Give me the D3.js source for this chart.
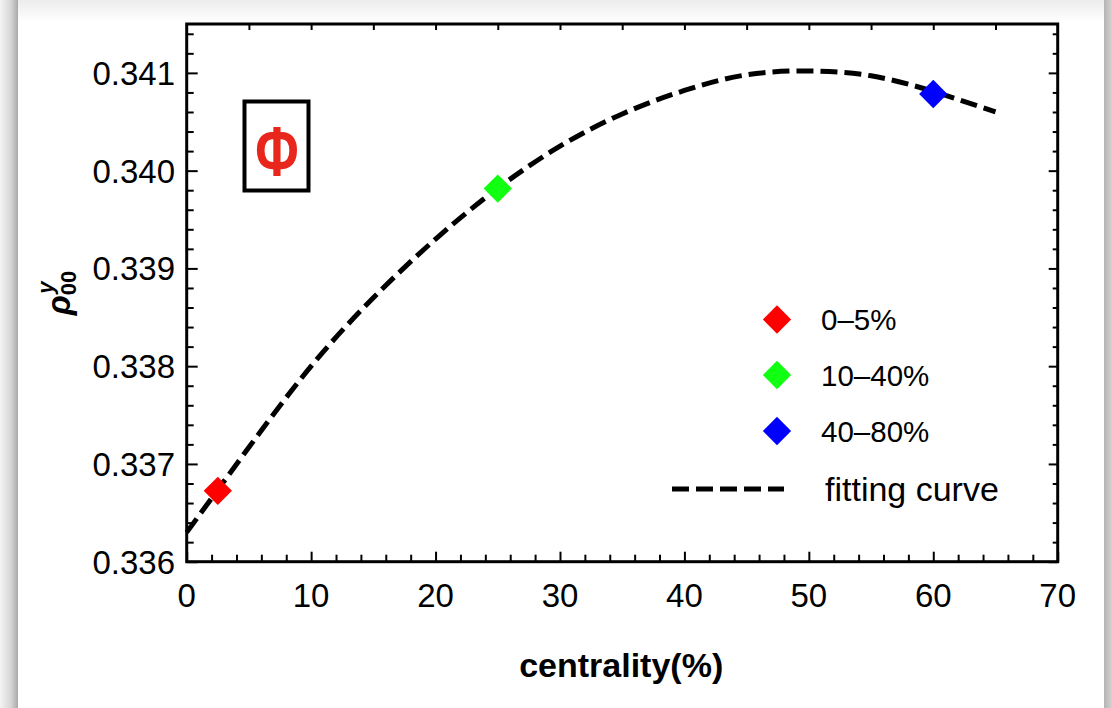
<!DOCTYPE html>
<html><head><meta charset="utf-8">
<script src="https://cdn.jsdelivr.net/npm/d3@7"></script>
<style>
html,body{margin:0;padding:0;background:#fff;}
svg{display:block;font-family:"Liberation Sans",Arial,Helvetica,sans-serif;}
</style></head>
<body>
<svg id="chart" width="1112" height="708"></svg>
<script>
// ---- data ----
const categories = ["0\u20135%", "10\u201340%", "40\u201380%"];
const pointX = [2.5, 25, 60];
const pointY = [0.336725, 0.339817, 0.340784];
const pointColors = ["#ff0000", "#11ff11", "#0000ff"];
const curveX = [0, 5, 10, 15, 20, 25, 30, 35, 40, 45, 50, 55, 60, 65];
const curveY = [0.33630, 0.33717, 0.33800, 0.33870, 0.33930, 0.33982, 0.34025,
                0.34058, 0.34082, 0.34098, 0.34102, 0.34097, 0.34081, 0.34060];
const xTicks = [0, 10, 20, 30, 40, 50, 60, 70];
const yTicks = [0.336, 0.337, 0.338, 0.339, 0.340, 0.341];
const curveLabel = "fitting curve";

const svg = d3.select("#chart");
const W = 1112, H = 708;

// window frame / shadows
const defs = svg.append("defs");
const gl = defs.append("linearGradient").attr("id","gl").attr("x1","0").attr("x2","1").attr("y1","0").attr("y2","0");
gl.append("stop").attr("offset","0").attr("stop-color","#f4f4f4");
gl.append("stop").attr("offset","0.6").attr("stop-color","#d6d6d6");
gl.append("stop").attr("offset","1").attr("stop-color","#a9a9a9");
const gt = defs.append("linearGradient").attr("id","gt").attr("x1","0").attr("x2","0").attr("y1","0").attr("y2","1");
gt.append("stop").attr("offset","0").attr("stop-color","#ececec");
gt.append("stop").attr("offset","1").attr("stop-color","#ffffff");
const gr = defs.append("linearGradient").attr("id","gr").attr("x1","0").attr("x2","1").attr("y1","0").attr("y2","0");
gr.append("stop").attr("offset","0").attr("stop-color","#b4b4b4");
gr.append("stop").attr("offset","1").attr("stop-color","#d2d2d2");

svg.append("rect").attr("x",0).attr("y",0).attr("width",W).attr("height",H).attr("fill","#fff");
svg.append("rect").attr("x",18).attr("y",0).attr("width",1086).attr("height",22).attr("fill","url(#gt)");
svg.append("rect").attr("x",0).attr("y",0).attr("width",18).attr("height",H).attr("fill","url(#gl)");
svg.append("rect").attr("x",1104).attr("y",0).attr("width",8).attr("height",H).attr("fill","url(#gr)");

// scales
const L = 186.7, R = 1057.7, T = 24, B = 561.7;
const x = d3.scaleLinear().domain([0, 70]).range([L, R]);
const y = d3.scaleLinear().domain([0.336, 0.3415]).range([B, T]);

const g = svg.append("g");

const xMinor = d3.range(0, 70.001, 2);
const yMinor = d3.range(0, 28).map(i => 0.336 + i * 0.0002);
function styleAxis(sel){
  sel.select(".domain").remove();
  sel.selectAll(".tick line").attr("stroke","#000").attr("stroke-width",2);
  sel.selectAll(".tick text").remove();
}
// bottom
g.append("g").attr("transform",`translate(0,${B})`)
  .call(d3.axisBottom(x).tickValues(xMinor.filter(v=>v%10!==0)).tickSize(-7)).call(styleAxis);
g.append("g").attr("transform",`translate(0,${B})`)
  .call(d3.axisBottom(x).tickValues(xTicks).tickSize(-10)).call(styleAxis);
// top
g.append("g").attr("transform",`translate(0,${T})`)
  .call(d3.axisTop(x).tickValues(d3.range(5, 70, 5)).tickSize(-6)).call(styleAxis);
// left
g.append("g").attr("transform",`translate(${L},0)`)
  .call(d3.axisLeft(y).tickValues(yMinor.filter((v,i)=>i%5!==0)).tickSize(-7)).call(styleAxis);
g.append("g").attr("transform",`translate(${L},0)`)
  .call(d3.axisLeft(y).tickValues(yTicks).tickSize(-11)).call(styleAxis);
// right
g.append("g").attr("transform",`translate(${R},0)`)
  .call(d3.axisRight(y).tickValues(yMinor.filter((v,i)=>i%5!==0)).tickSize(-5)).call(styleAxis);
g.append("g").attr("transform",`translate(${R},0)`)
  .call(d3.axisRight(y).tickValues(yTicks).tickSize(-9)).call(styleAxis);

// frame
g.append("rect").attr("x",L).attr("y",T).attr("width",R-L).attr("height",B-T)
  .attr("fill","none").attr("stroke","#000").attr("stroke-width",3);

// tick labels
g.selectAll(".xl").data(xTicks).enter().append("text")
  .attr("x", d => x(d)).attr("y", 607).attr("text-anchor","middle")
  .attr("font-size", 33).attr("fill","#000").text(d => d);
g.selectAll(".yl").data(yTicks).enter().append("text")
  .attr("x", 175).attr("y", d => y(d)).attr("dy","0.36em").attr("text-anchor","end")
  .attr("font-size", 33).attr("fill","#000").text(d => d3.format(".3f")(d));

// axis titles
g.append("text").attr("x", (L+R)/2 - 1).attr("y", 677).attr("text-anchor","middle")
  .attr("font-size", 34).attr("font-weight","bold").attr("fill","#000").text("centrality(%)");
const yt = g.append("text").attr("transform","translate(70,293) rotate(-90)")
  .attr("text-anchor","middle").attr("font-size", 33).attr("font-weight","bold").attr("fill","#000");
yt.append("tspan").attr("font-style","italic").text("\u03C1");
yt.append("tspan").attr("font-size",22).attr("dy",6).text("00");
yt.append("tspan").attr("font-size",22).attr("font-style","italic").attr("dx",-23).attr("dy",-23).text("y");

// fitting curve
const line = d3.line().x((d,i) => x(curveX[i])).y(d => y(d)).curve(d3.curveNatural);
g.append("path").attr("d", line(curveY)).attr("fill","none")
  .attr("stroke","#000").attr("stroke-width",5).attr("stroke-dasharray","17,7");

// diamonds
const diamond = d3.symbol().type(d3.symbolSquare).size(400);
g.selectAll(".pt").data(pointY).enter().append("path")
  .attr("d", diamond)
  .attr("transform", (d,i) => `translate(${x(pointX[i])},${y(d)}) rotate(45)`)
  .attr("fill", (d,i) => pointColors[i]);

// Phi label box
g.append("rect").attr("x",244.5).attr("y",101.5).attr("width",64).attr("height",89)
  .attr("fill","none").attr("stroke","#000").attr("stroke-width",4);
g.append("text").attr("text-anchor","middle")
  .attr("font-size",60).attr("font-weight","bold").attr("fill","#e8261b")
  .attr("transform","translate(277,176) scale(0.88,1.18)")
  .text("\u03A6");

// legend
const legY = [319.5, 375, 431];
const lg = g.append("g");
lg.selectAll(".lm").data(categories).enter().append("path")
  .attr("d", diamond)
  .attr("transform", (d,i) => `translate(777,${legY[i]}) rotate(45)`)
  .attr("fill", (d,i) => pointColors[i]);
lg.selectAll(".lt").data(categories).enter().append("text")
  .attr("x", 821).attr("y", (d,i) => legY[i]).attr("dy","0.36em")
  .attr("font-size", 29.5).attr("fill","#000").text(d => d);
lg.append("line").attr("x1",672).attr("x2",784).attr("y1",489).attr("y2",489)
  .attr("stroke","#000").attr("stroke-width",5).attr("stroke-dasharray","17,7");
lg.append("text").attr("x",825).attr("y",489).attr("dy","0.36em")
  .attr("font-size", 34).attr("fill","#000").text(curveLabel);
</script>
</body></html>
